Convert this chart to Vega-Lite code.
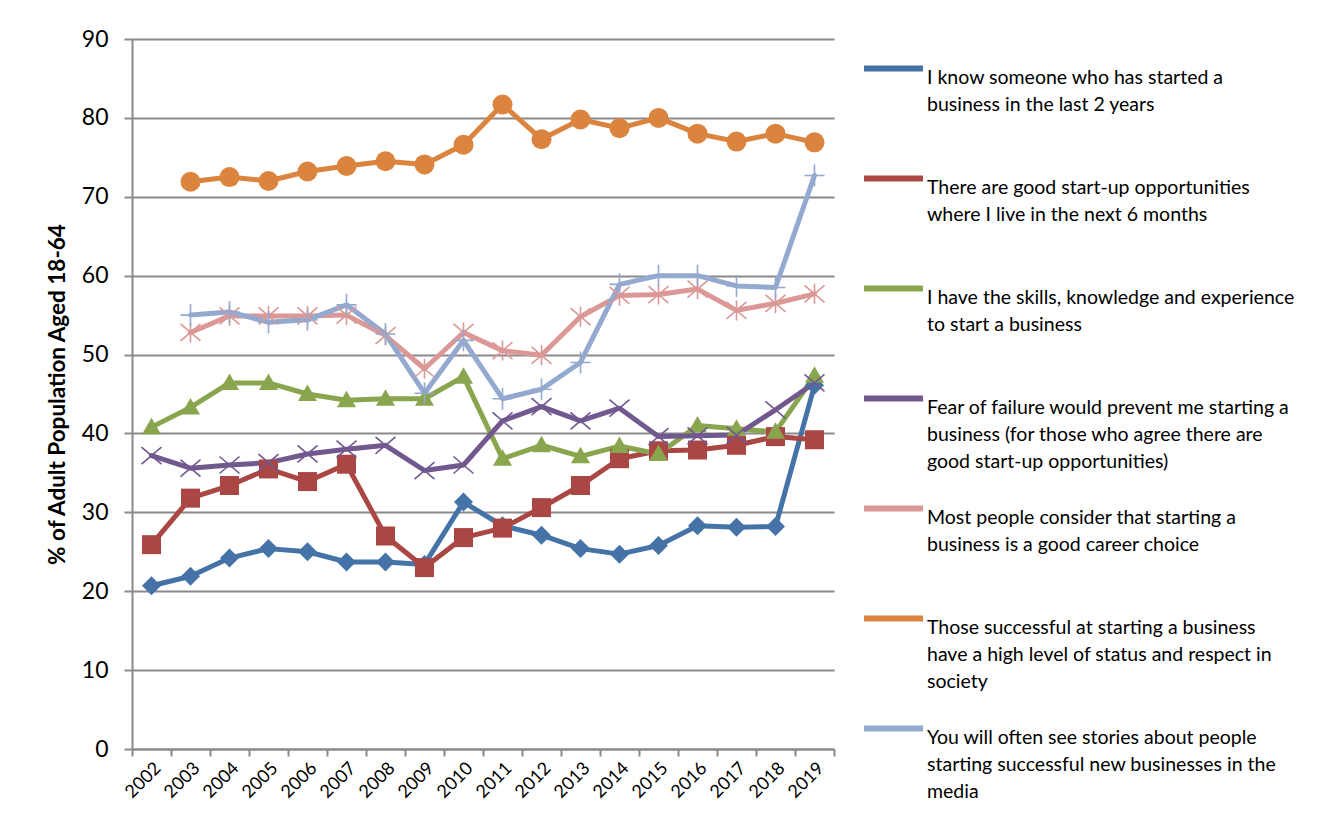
{
  "$schema": "https://vega.github.io/schema/vega-lite/v6.json",
  "width": 702,
  "height": 710,
  "padding": {"left": 46, "top": 28, "right": 10, "bottom": 5},
  "background": "white",
  "config": {"font": "Lato", "view": {"stroke": null}},
  "data": {
    "values": [
      {"year": 2002, "know": 20.7, "opps": 25.9, "skills": 40.8, "fear": 37.2, "career": null, "status": null, "media": null},
      {"year": 2003, "know": 21.9, "opps": 31.8, "skills": 43.3, "fear": 35.6, "career": 52.8, "status": 71.9, "media": 55.0},
      {"year": 2004, "know": 24.2, "opps": 33.4, "skills": 46.4, "fear": 36.0, "career": 54.9, "status": 72.5, "media": 55.4},
      {"year": 2005, "know": 25.4, "opps": 35.5, "skills": 46.4, "fear": 36.3, "career": 54.9, "status": 72.0, "media": 54.1},
      {"year": 2006, "know": 25.0, "opps": 33.9, "skills": 45.0, "fear": 37.4, "career": 54.9, "status": 73.2, "media": 54.4},
      {"year": 2007, "know": 23.7, "opps": 36.1, "skills": 44.2, "fear": 38.0, "career": 55.0, "status": 73.9, "media": 56.3},
      {"year": 2008, "know": 23.7, "opps": 27.0, "skills": 44.4, "fear": 38.5, "career": 52.4, "status": 74.5, "media": 52.6},
      {"year": 2009, "know": 23.4, "opps": 23.0, "skills": 44.4, "fear": 35.3, "career": 48.2, "status": 74.1, "media": 45.1},
      {"year": 2010, "know": 31.3, "opps": 26.8, "skills": 47.2, "fear": 36.0, "career": 52.8, "status": 76.6, "media": 51.8},
      {"year": 2011, "know": 28.3, "opps": 28.0, "skills": 36.8, "fear": 41.6, "career": 50.5, "status": 81.7, "media": 44.4},
      {"year": 2012, "know": 27.1, "opps": 30.6, "skills": 38.5, "fear": 43.4, "career": 49.9, "status": 77.3, "media": 45.6},
      {"year": 2013, "know": 25.4, "opps": 33.4, "skills": 37.1, "fear": 41.6, "career": 54.8, "status": 79.8, "media": 49.0},
      {"year": 2014, "know": 24.7, "opps": 36.8, "skills": 38.4, "fear": 43.2, "career": 57.5, "status": 78.7, "media": 58.9},
      {"year": 2015, "know": 25.8, "opps": 37.8, "skills": 37.4, "fear": 39.6, "career": 57.6, "status": 80.0, "media": 60.0},
      {"year": 2016, "know": 28.3, "opps": 37.9, "skills": 41.0, "fear": 39.7, "career": 58.3, "status": 78.0, "media": 60.0},
      {"year": 2017, "know": 28.1, "opps": 38.5, "skills": 40.6, "fear": 39.8, "career": 55.6, "status": 77.0, "media": 58.7},
      {"year": 2018, "know": 28.2, "opps": 39.6, "skills": 40.2, "fear": 43.0, "career": 56.5, "status": 78.0, "media": 58.5},
      {"year": 2019, "know": 46.1, "opps": 39.2, "skills": 47.3, "fear": 46.4, "career": 57.7, "status": 76.9, "media": 72.7}
    ]
  },
  "transform": [
    {"fold": ["know", "opps", "skills", "fear", "career", "status", "media"], "as": ["series", "value"]}
  ],
  "encoding": {
    "x": {
      "field": "year",
      "type": "ordinal",
      "bandPosition": 0.5,
      "scale": {"type": "band", "paddingInner": 0, "paddingOuter": 0},
      "axis": {
        "title": null,
        "labelAngle": -45,
        "labelFontSize": 18,
        "labelColor": "black",
        "tickBand": "extent",
        "tickColor": "#8a8a8a",
        "tickWidth": 2,
        "tickSize": 7,
        "domainColor": "#8a8a8a",
        "domainWidth": 2,
        "grid": false,
        "labelPadding": 3
      }
    },
    "y": {
      "field": "value",
      "type": "quantitative",
      "scale": {"domain": [0, 90], "nice": false},
      "axis": {
        "title": "% of Adult Population Aged 18-64",
        "titleFontSize": 22.5,
        "titleFontWeight": "bold",
        "titleColor": "black",
        "titlePadding": 12,
        "values": [0, 10, 20, 30, 40, 50, 60, 70, 80, 90],
        "labelFontSize": 23,
        "labelColor": "black",
        "labelPadding": 16,
        "grid": true,
        "gridColor": "#8a8a8a",
        "gridWidth": 2,
        "domainColor": "#8a8a8a",
        "domainWidth": 2,
        "tickColor": "#8a8a8a",
        "tickWidth": 2,
        "tickSize": 8
      }
    },
    "color": {
      "field": "series",
      "type": "nominal",
      "scale": {
        "domain": ["know", "opps", "skills", "fear", "career", "status", "media"],
        "range": ["#4572A7", "#AA4643", "#89A54E", "#71588F", "#DB9896", "#DB843D", "#93A9CF"]
      },
      "legend": {
        "title": null,
        "orient": "right",
        "offset": 30,
        "labelFontSize": 19.5,
        "labelColor": "black",
        "labelLimit": 600,
        "labelBaseline": "top",
        "labelOffset": 4,
        "symbolType": "M-1,-0.05H1V0.05H-1Z",
        "symbolSize": 3136,
        "symbolStrokeWidth": 3,
        "gridAlign": "all",
        "rowPadding": 8,
        "labelExpr": "({'know': ['I know someone who has started a', 'business in the last 2 years'], 'opps': ['There are good start-up opportunities', 'where I live in the next 6 months'], 'skills': ['I have the skills, knowledge and experience', 'to start a business'], 'fear': ['Fear of failure would prevent me starting a', 'business (for those who agree there are', 'good start-up opportunities)'], 'career': ['Most people consider that starting a', 'business is a good career choice'], 'status': ['Those successful at starting a business', 'have a high level of status and respect in', 'society'], 'media': ['You will often see stories about people', 'starting successful new businesses in the', 'media']})[datum.value]",
        "encode": {
          "labels": {"update": {"lineHeight": {"value": 27}}}
        }
      }
    }
  },
  "layer": [
    {
      "mark": {"type": "line", "strokeWidth": 5, "strokeJoin": "round", "strokeCap": "round"}
    },
    {
      "mark": {"type": "point", "filled": true, "size": 400, "opacity": 1, "strokeWidth": 0},
      "encoding": {
        "shape": {
          "field": "series",
          "type": "nominal",
          "legend": null,
          "scale": {
            "domain": ["media", "status", "career", "fear", "skills", "opps", "know"],
            "range": [
              "M-0.08,-1.1H0.08V1.1H-0.08Z M-1,-0.08H1V0.08H-1Z",
              "circle",
              "M-1.052,-0.789L0.948,0.911L1.052,0.789L-0.948,-0.911Z M-0.948,0.911L1.052,-0.789L0.948,-0.911L-1.052,0.789Z M-0.08,-1H0.08V1H-0.08Z",
              "M-1.052,-0.789L0.948,0.911L1.052,0.789L-0.948,-0.911Z M-0.948,0.911L1.052,-0.789L0.948,-0.911L-1.052,0.789Z",
              "M0,-0.95L0.95,0.7H-0.95Z",
              "M-0.95,-0.95H0.95V0.95H-0.95Z",
              "M0,-0.95L0.95,0L0,0.95L-0.95,0Z"
            ]
          }
        }
      }
    }
  ]
}
